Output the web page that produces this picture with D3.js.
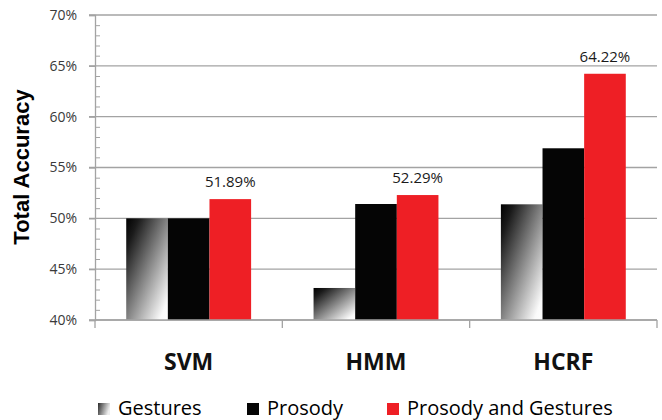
<!DOCTYPE html>
<html>
<head>
<meta charset="utf-8">
<script src="https://cdn.jsdelivr.net/npm/d3@7"></script>
<style>
  html, body { margin: 0; padding: 0; background: #fff; }
  svg { display: block; }
</style>
</head>
<body>
<script>
// Classifier accuracy by input modality
const categories = ["SVM", "HMM", "HCRF"];
const seriesNames = ["Gestures", "Prosody", "Prosody and Gestures"];
const gestures = [50.0, 43.15, 51.38];
const prosody = [50.0, 51.41, 56.89];
const prosodyAndGestures = [51.89, 52.29, 64.22];
const yTicks = [40, 45, 50, 55, 60, 65, 70];
const yTickLabels = ["40%", "45%", "50%", "55%", "60%", "65%", "70%"];
const yTitle = "Total Accuracy";

const W = 662, H = 420;
const plot = { left: 95, right: 657, top: 15, bottom: 320 };
const gridColor = "#a3a3a3";
const colors = ["url(#gestGrad)", "#050505", "#ee1f25"];

const svg = d3.select("body").append("svg").attr("width", W).attr("height", H);

// Diagonal black-to-white fill for the gesture bars
const defs = svg.append("defs");
const gg = defs.append("linearGradient").attr("id", "gestGrad")
  .attr("x1", 0).attr("y1", 0).attr("x2", 1).attr("y2", 1);
gg.append("stop").attr("offset", 0).attr("stop-color", "#000");
gg.append("stop").attr("offset", 0.15).attr("stop-color", "#1a1a1a");
gg.append("stop").attr("offset", 0.9).attr("stop-color", "#fafafa");
gg.append("stop").attr("offset", 1).attr("stop-color", "#fff");
const lg = defs.append("linearGradient").attr("id", "legGrad")
  .attr("x1", 0).attr("y1", 0).attr("x2", 1).attr("y2", 0.3);
lg.append("stop").attr("offset", 0).attr("stop-color", "#2a2a2a");
lg.append("stop").attr("offset", 1).attr("stop-color", "#eeeeee");

const x0 = d3.scaleBand().domain(categories).range([plot.left, plot.right]).padding(0);
const x1 = d3.scaleBand().domain(seriesNames).range([0, x0.bandwidth()])
  .paddingInner(0).paddingOuter(0.75);
const y = d3.scaleLinear().domain([40, 70]).range([plot.bottom, plot.top]);

// Horizontal gridlines
svg.append("g").selectAll("line").data(yTicks).join("line")
  .attr("x1", plot.left - 6).attr("x2", plot.right)
  .attr("y1", d => y(d)).attr("y2", d => y(d))
  .attr("stroke", gridColor).attr("stroke-width", 1.3);

// Left axis with labels
const yAxis = svg.append("g").attr("transform", `translate(${plot.left},0)`)
  .call(d3.axisLeft(y).tickValues(yTicks).tickSize(6).tickPadding(12)
    .tickFormat((d, i) => yTickLabels[i]));
yAxis.select(".domain").attr("stroke", gridColor).attr("stroke-width", 1.3);
yAxis.selectAll(".tick line").attr("stroke", gridColor).attr("stroke-width", 1.3);
yAxis.selectAll("text").attr("font-family", "'Open Sans', sans-serif")
  .attr("font-size", 14).attr("fill", "#3a3a3a");

// Minor ticks every 1%
const minor = d3.range(41, 70).filter(v => v % 5 !== 0);
const yMinor = svg.append("g").attr("transform", `translate(${plot.left},0)`)
  .call(d3.axisRight(y).tickValues(minor).tickSize(5).tickFormat(""));
yMinor.select(".domain").remove();
yMinor.selectAll(".tick line").attr("stroke", gridColor).attr("stroke-width", 1);

// Bars
const rows = categories.map((c, i) => ({
  cat: c,
  vals: [gestures[i], prosody[i], prosodyAndGestures[i]]
}));
const groups = svg.append("g").selectAll("g").data(rows).join("g")
  .attr("transform", d => `translate(${x0(d.cat)},0)`);
groups.selectAll("rect").data(d => d.vals.map((v, k) => ({ v, k }))).join("rect")
  .attr("x", d => x1(seriesNames[d.k]))
  .attr("width", x1.bandwidth())
  .attr("y", d => y(d.v))
  .attr("height", d => y(40) - y(d.v))
  .attr("fill", d => colors[d.k]);

// Value labels on the combined bars
groups.append("text")
  .attr("x", x1(seriesNames[2]) + x1.bandwidth() / 2)
  .attr("y", (d, i) => y(prosodyAndGestures[i]) - 12)
  .attr("text-anchor", "middle")
  .attr("font-family", "'Open Sans', sans-serif").attr("font-size", 15).attr("fill", "#1a1a1a")
  .text((d, i) => d3.format(".2f")(prosodyAndGestures[i]) + "%");

// Bottom axis: baseline and category boundary ticks
const xb = svg.append("g");
xb.append("line").attr("x1", plot.left).attr("x2", plot.right)
  .attr("y1", y(40)).attr("y2", y(40)).attr("stroke", gridColor).attr("stroke-width", 1.3);
const bounds = categories.map(c => x0(c)).concat([x0.range()[1]]);
xb.selectAll("line.tk").data(bounds).join("line").attr("class", "tk")
  .attr("x1", d => d).attr("x2", d => d)
  .attr("y1", y(40)).attr("y2", y(40) + 8)
  .attr("stroke", gridColor).attr("stroke-width", 1.3);
xb.selectAll("text").data(categories).join("text")
  .attr("x", d => x0(d) + x0.bandwidth() / 2)
  .attr("y", 370)
  .attr("text-anchor", "middle")
  .attr("font-family", "'Open Sans', sans-serif").attr("font-weight", "bold")
  .attr("font-size", 23).attr("fill", "#111")
  .text(d => d);

// Y title
svg.append("text")
  .attr("transform", "translate(29,167) rotate(-90)")
  .attr("text-anchor", "middle")
  .attr("font-family", "'Liberation Sans', Arial, sans-serif").attr("font-weight", "bold")
  .attr("font-size", 22).attr("fill", "#000")
  .text(yTitle);

// Legend
const legendX = [98, 247, 387];
const legendFill = ["url(#legGrad)", "#050505", "#ee1f25"];
const leg = svg.append("g").selectAll("g").data(seriesNames).join("g")
  .attr("transform", (d, i) => `translate(${legendX[i]},0)`);
leg.append("rect").attr("x", 0).attr("y", 403).attr("width", 12).attr("height", 12)
  .attr("fill", (d, i) => legendFill[i]);
leg.append("text").attr("x", 20).attr("y", 415)
  .attr("font-family", "'Open Sans', sans-serif").attr("font-size", 20).attr("fill", "#000")
  .text(d => d);
</script>
</body>
</html>
